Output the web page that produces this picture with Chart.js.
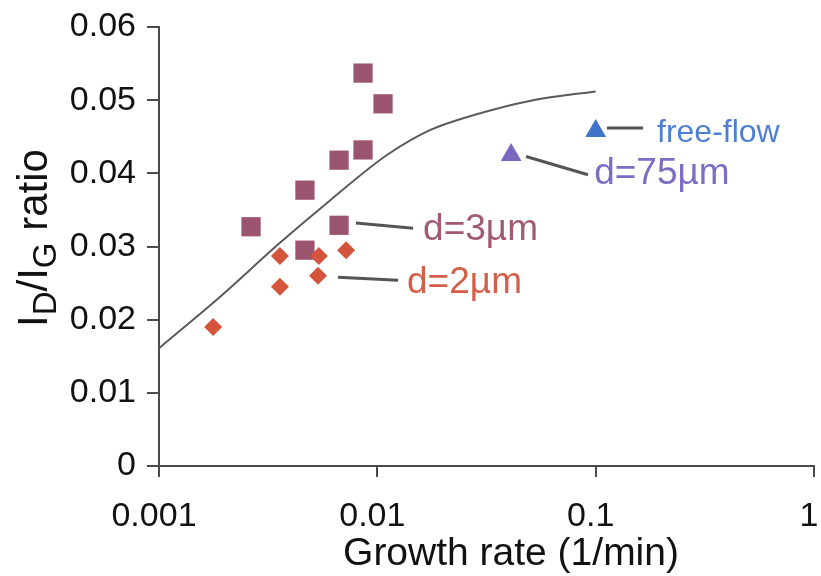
<!DOCTYPE html>
<html>
<head>
<meta charset="utf-8">
<script src="https://cdn.jsdelivr.net/npm/chart.js@4"></script>
<style>
  html, body { margin: 0; padding: 0; background: #fff; }
  #wrap { width: 821px; height: 576px; }
</style>
</head>
<body>
<div id="wrap"><canvas id="chart" width="821" height="576"></canvas></div>
<script>
// model curve
const curveX = [0.001, 0.0019, 0.00358, 0.00607, 0.01107, 0.0174, 0.0258, 0.0517, 0.1];
const curveY = [0.0161, 0.0231, 0.0305, 0.0363, 0.0425, 0.0459, 0.0477, 0.0500, 0.0512];

// d=3um (squares)
const growth3 = [0.00264, 0.00466, 0.00466, 0.00668, 0.00668, 0.0086, 0.0086, 0.01062];
const ratio3 = [0.0327, 0.0295, 0.0377, 0.0418, 0.0329, 0.0432, 0.0537, 0.0495];

// d=2um (diamonds)
const growth2 = [0.00177, 0.00358, 0.00358, 0.00535, 0.0054, 0.00719];
const ratio2 = [0.0190, 0.0245, 0.0287, 0.0260, 0.0287, 0.0295];

// d=75um and free-flow (triangles)
const growth75 = [0.041];
const ratio75 = [0.0425];
const growthFree = [0.1];
const ratioFree = [0.0458];

const xTicks = [0.001, 0.01, 0.1, 1];
const xTickLabels = ['0.001', '0.01', '0.1', '1'];
const yTickLabels = ['0', '0.01', '0.02', '0.03', '0.04', '0.05', '0.06'];

// callouts: leader line [x1, y1, x2, y2], text anchor [x, y]
const callouts = [
    { text: 'free-flow', color: '#4d7fd4', size: 32, line: [0.1127, 0.0462, 0.1648, 0.0462], at: [0.191, 0.0443] },
    { text: 'd=75\u00b5m', color: '#7f6cc4', size: 37, line: [0.048, 0.0423, 0.0922, 0.0398], at: [0.0984, 0.0385] },
    { text: 'd=3\u00b5m', color: '#a25a74', size: 37, line: [0.00798, 0.0332, 0.01458, 0.0325], at: [0.0162, 0.0309] },
    { text: 'd=2\u00b5m', color: '#d45f48', size: 37, line: [0.0066, 0.0258, 0.01245, 0.0254], at: [0.01368, 0.0236] }
];

const pts = (xs, ys) => xs.map((x, i) => ({ x: x, y: ys[i] }));
const FONT = "'Liberation Sans', Arial, sans-serif";
const AXIS = '#4a4a4a';

const calloutPlugin = {
    id: 'callouts',
    afterDatasetsDraw(chart) {
        const { ctx, scales: { x, y } } = chart;
        ctx.save();
        callouts.forEach(c => {
            ctx.strokeStyle = '#555';
            ctx.lineWidth = 3;
            ctx.beginPath();
            ctx.moveTo(x.getPixelForValue(c.line[0]), y.getPixelForValue(c.line[1]));
            ctx.lineTo(x.getPixelForValue(c.line[2]), y.getPixelForValue(c.line[3]));
            ctx.stroke();
            ctx.fillStyle = c.color;
            ctx.font = c.size + 'px ' + FONT;
            ctx.textAlign = 'left';
            ctx.textBaseline = 'alphabetic';
            ctx.fillText(c.text, x.getPixelForValue(c.at[0]), y.getPixelForValue(c.at[1]));
        });
        ctx.restore();
    }
};

// axis titles; the y one needs subscripts: I_D/I_G ratio
const titlePlugin = {
    id: 'titles',
    afterDraw(chart) {
        const { ctx } = chart;
        ctx.save();
        ctx.fillStyle = '#111';
        ctx.textBaseline = 'alphabetic';

        ctx.font = '39px ' + FONT;
        ctx.textAlign = 'center';
        ctx.fillText('Growth rate (1/min)', 511, 565);

        const parts = [
            ['I', false], ['D', true], ['/I', false], ['G', true], [' ratio', false]
        ];
        ctx.textAlign = 'left';
        ctx.translate(47, 327);
        ctx.rotate(-Math.PI / 2);
        let pos = 0;
        parts.forEach(([t, sub]) => {
            ctx.font = (sub ? '33px ' : '42px ') + FONT;
            ctx.fillText(t, pos, sub ? 9 : 0);
            pos += ctx.measureText(t).width;
        });
        ctx.restore();
    }
};

new Chart(document.getElementById('chart').getContext('2d'), {
    type: 'scatter',
    data: {
        datasets: [
            {
                label: 'model',
                data: pts(curveX, curveY),
                showLine: true,
                borderColor: '#5a5a5a',
                borderWidth: 2,
                pointRadius: 0,
                cubicInterpolationMode: 'monotone',
                order: 5
            },
            {
                label: 'd=3um',
                data: pts(growth3, ratio3),
                pointStyle: 'rect',
                pointRadius: 13.6,
                backgroundColor: '#9b5470',
                borderWidth: 0,
                order: 2
            },
            {
                label: 'd=2um',
                data: pts(growth2, ratio2),
                pointStyle: 'rectRot',
                pointRadius: 9,
                backgroundColor: '#d4553c',
                borderWidth: 0,
                order: 1
            },
            {
                label: 'd=75um',
                data: pts(growth75, ratio75),
                pointStyle: 'triangle',
                pointRadius: 12,
                backgroundColor: '#7a68c0',
                borderWidth: 0,
                order: 1
            },
            {
                label: 'free-flow',
                data: pts(growthFree, ratioFree),
                pointStyle: 'triangle',
                pointRadius: 12,
                backgroundColor: '#3f74c8',
                borderWidth: 0,
                order: 1
            }
        ]
    },
    options: {
        responsive: false,
        animation: false,
        layout: { autoPadding: false, padding: { top: 27, right: 7, left: 0, bottom: 0 } },
        plugins: {
            legend: { display: false },
            tooltip: { enabled: false }
        },
        scales: {
            x: {
                type: 'logarithmic',
                min: 0.001,
                max: 1,
                afterBuildTicks: s => { s.ticks = xTicks.map(v => ({ value: v })); },
                afterFit: s => { s.height = 110; s.paddingLeft = 0; s.paddingRight = 0; },
                grid: { drawOnChartArea: false, drawTicks: true, tickLength: 11, color: AXIS, lineWidth: 2 },
                border: { display: true, color: AXIS, width: 2 },
                ticks: {
                    padding: 19,
                    labelOffset: -5,
                    maxRotation: 0,
                    color: '#111',
                    font: { family: FONT, size: 34 },
                    callback: (v) => xTickLabels[xTicks.indexOf(v)] ?? ''
                }
            },
            y: {
                min: 0,
                max: 0.06,
                afterBuildTicks: s => { s.ticks = yTickLabels.map((t, i) => ({ value: i * 0.01 })); },
                afterFit: s => { s.width = 159; s.paddingTop = 0; s.paddingBottom = 0; },
                grid: { drawOnChartArea: false, drawTicks: true, tickLength: 12, color: AXIS, lineWidth: 2 },
                border: { display: true, color: AXIS, width: 2 },
                ticks: {
                    padding: 11,
                    color: '#111',
                    font: { family: FONT, size: 34 },
                    callback: (v, i) => yTickLabels[i]
                }
            }
        }
    },
    plugins: [calloutPlugin, titlePlugin]
});
</script>
</body>
</html>
